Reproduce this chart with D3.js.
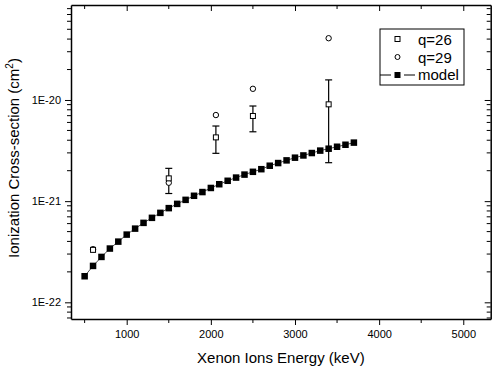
<!DOCTYPE html>
<html>
<head>
<meta charset="utf-8">
<script src="https://cdn.jsdelivr.net/npm/d3@7"></script>
<style>
  body { margin: 0; background: #fff; }
  text { font-family: Arial, "Liberation Sans", sans-serif; fill: #000; }
</style>
</head>
<body>
<script>
// chart size
var svgWidth = 501;
var svgHeight = 376;

// model curve, 500..3700 keV
var modelEnergy = [500, 600, 700, 800, 900, 1000, 1100, 1200, 1300, 1400, 1500, 1600, 1700,
  1800, 1900, 2000, 2100, 2200, 2300, 2400, 2500, 2600, 2700, 2800, 2900, 3000, 3100,
  3200, 3300, 3400, 3500, 3600, 3700];
var modelSigma = [1.81e-22, 2.29e-22, 2.81e-22, 3.40e-22, 3.98e-22, 4.67e-22, 5.35e-22, 6.10e-22,
  6.84e-22, 7.66e-22, 8.53e-22, 9.40e-22, 1.03e-21, 1.13e-21, 1.23e-21, 1.35e-21, 1.47e-21,
  1.59e-21, 1.71e-21, 1.83e-21, 1.95e-21, 2.07e-21, 2.24e-21, 2.38e-21, 2.53e-21, 2.69e-21,
  2.83e-21, 2.99e-21, 3.16e-21, 3.30e-21, 3.45e-21, 3.61e-21, 3.79e-21];

// q=26 measurements with error bars
var q26Energy = [600, 1500, 2060, 2500, 3400];
var q26Sigma = [3.30e-22, 1.68e-21, 4.27e-21, 6.95e-21, 9.06e-21];
var q26Low = [null, 1.19e-21, 2.97e-21, 4.85e-21, 2.40e-21];
var q26High = [null, 2.11e-21, 5.53e-21, 8.72e-21, 1.58e-20];

// q=29 measurements
var q29Energy = [600, 1500, 2060, 2500, 3400];
var q29Sigma = [3.35e-22, 1.52e-21, 7.1e-21, 1.29e-20, 4.08e-20];

var xTicks = [1000, 2000, 3000, 4000, 5000];
var yTicks = [1e-22, 1e-21, 1e-20];
var yTickLabels = ['1E-22', '1E-21', '1E-20'];
var legendLabels = ['q=26', 'q=29', 'model'];

// plot frame (note: "top" is a reserved window prop, so prefix everything)
var pLeft = 71, pRight = 490.7, pTop = 5, pBottom = 319;

var svg = d3.select('body').append('svg')
  .attr('width', svgWidth)
  .attr('height', svgHeight);

var x = d3.scaleLinear().domain([338, 5326]).range([pLeft, pRight]);
var y = d3.scaleLog().domain([6.84e-23, 8.69e-20]).range([pBottom, pTop]);

// minor ticks
var xMinor = [];
for (let v = 500; v <= 5000; v += 1000) xMinor.push(v);
var yMinor = [];
[1e-23, 1e-22, 1e-21, 1e-20].forEach(function(d) {
  for (let k = 2; k <= 9; k++) {
    let v = d * k;
    if (v > y.domain()[0] && v < y.domain()[1]) yMinor.push(v);
  }
});

// bottom axis
var xAxis = svg.append('g').attr('transform', 'translate(0,' + pBottom + ')')
  .call(d3.axisBottom(x).tickValues(xTicks).tickSize(6).tickSizeOuter(0).tickPadding(5)
    .tickFormat(d3.format('d')));
xAxis.append('g').selectAll('line').data(xMinor).enter().append('line')
  .attr('x1', x).attr('x2', x).attr('y1', 0).attr('y2', 4).attr('stroke', '#000');

// top axis (ticks inward)
var xTop = svg.append('g').attr('transform', 'translate(0,' + pTop + ')')
  .call(d3.axisBottom(x).tickValues(xTicks).tickSize(6).tickSizeOuter(0).tickFormat(''));
xTop.append('g').selectAll('line').data(xMinor).enter().append('line')
  .attr('x1', x).attr('x2', x).attr('y1', 0).attr('y2', 4).attr('stroke', '#000');

// left axis
var yAxis = svg.append('g').attr('transform', 'translate(' + pLeft + ',0)')
  .call(d3.axisLeft(y).tickValues(yTicks).tickSize(6).tickSizeOuter(0).tickPadding(4)
    .tickFormat(function(d, i) { return yTickLabels[i]; }));
yAxis.append('g').selectAll('line').data(yMinor).enter().append('line')
  .attr('y1', y).attr('y2', y).attr('x1', 0).attr('x2', -4).attr('stroke', '#000');

// right axis (ticks inward)
var yRight = svg.append('g').attr('transform', 'translate(' + pRight + ',0)')
  .call(d3.axisLeft(y).tickValues(yTicks).tickSize(6).tickSizeOuter(0).tickFormat(''));
yRight.append('g').selectAll('line').data(yMinor).enter().append('line')
  .attr('y1', y).attr('y2', y).attr('x1', 0).attr('x2', -4).attr('stroke', '#000');

svg.selectAll('.domain').attr('stroke-width', 1.5);
svg.selectAll('.tick text').style('font-size', '11px').style('font-family', 'Arial, "Liberation Sans", sans-serif');

// axis titles
svg.append('text')
  .attr('x', (pLeft + pRight) / 2).attr('y', 363)
  .attr('text-anchor', 'middle').style('font-size', '15px')
  .text('Xenon Ions Energy (keV)');

var yt = svg.append('text')
  .attr('transform', 'translate(19,158) rotate(-90)')
  .attr('text-anchor', 'middle').style('font-size', '15px');
yt.append('tspan').text('Ionization Cross-section (cm');
yt.append('tspan').attr('dy', -6).style('font-size', '10px').text('2');
yt.append('tspan').attr('dy', 6).text(')');

// model line + squares
var modelData = modelEnergy.map(function(e, i) { return {e: e, s: modelSigma[i]}; });
svg.append('path').datum(modelData)
  .attr('fill', 'none').attr('stroke', '#000').attr('stroke-width', 0.7)
  .attr('d', d3.line().x(function(d) { return x(d.e); }).y(function(d) { return y(d.s); }));
var ms = 6.5;
svg.selectAll('.model').data(modelData).enter().append('rect')
  .attr('class', 'model')
  .attr('x', function(d) { return x(d.e) - ms / 2; })
  .attr('y', function(d) { return y(d.s) - ms / 2; })
  .attr('width', ms).attr('height', ms).attr('fill', '#000');

// error bars q=26
var q26Data = q26Energy.map(function(e, i) {
  return {e: e, s: q26Sigma[i], lo: q26Low[i], hi: q26High[i]};
});
var errs = svg.selectAll('.err').data(q26Data.filter(function(d) { return d.lo !== null; }))
  .enter().append('g').attr('class', 'err').attr('stroke', '#000').attr('stroke-width', 1.2);
errs.append('line')
  .attr('x1', function(d) { return x(d.e); }).attr('x2', function(d) { return x(d.e); })
  .attr('y1', function(d) { return y(d.lo); }).attr('y2', function(d) { return y(d.hi); });
errs.append('line')
  .attr('x1', function(d) { return x(d.e) - 3.5; }).attr('x2', function(d) { return x(d.e) + 3.5; })
  .attr('y1', function(d) { return y(d.lo); }).attr('y2', function(d) { return y(d.lo); });
errs.append('line')
  .attr('x1', function(d) { return x(d.e) - 3.5; }).attr('x2', function(d) { return x(d.e) + 3.5; })
  .attr('y1', function(d) { return y(d.hi); }).attr('y2', function(d) { return y(d.hi); });

// q=29 circles
var q29Data = q29Energy.map(function(e, i) { return {e: e, s: q29Sigma[i]}; });
svg.selectAll('.q29').data(q29Data).enter().append('circle')
  .attr('class', 'q29')
  .attr('cx', function(d) { return x(d.e); })
  .attr('cy', function(d) { return y(d.s); })
  .attr('r', 2.7).attr('fill', '#fff').attr('stroke', '#000').attr('stroke-width', 1);

// q=26 squares
var qs = 5;
svg.selectAll('.q26').data(q26Data).enter().append('rect')
  .attr('class', 'q26')
  .attr('x', function(d) { return x(d.e) - qs / 2; })
  .attr('y', function(d) { return y(d.s) - qs / 2; })
  .attr('width', qs).attr('height', qs)
  .attr('fill', '#fff').attr('stroke', '#000').attr('stroke-width', 1);

// legend
var lg = svg.append('g').attr('transform', 'translate(380,29)');
lg.append('rect').attr('width', 84).attr('height', 56)
  .attr('fill', '#fff').attr('stroke', '#000').attr('stroke-width', 1);
lg.append('rect').attr('x', 15).attr('y', 7.5).attr('width', 5).attr('height', 5)
  .attr('fill', '#fff').attr('stroke', '#000');
lg.append('circle').attr('cx', 17.5).attr('cy', 28).attr('r', 2.5)
  .attr('fill', '#fff').attr('stroke', '#000');
lg.append('line').attr('x1', 0).attr('x2', 11).attr('y1', 46).attr('y2', 46)
  .attr('stroke', '#000').attr('stroke-width', 1);
lg.append('line').attr('x1', 24).attr('x2', 35).attr('y1', 46).attr('y2', 46)
  .attr('stroke', '#000').attr('stroke-width', 1);
lg.append('rect').attr('x', 14.5).attr('y', 43).attr('width', 6).attr('height', 6).attr('fill', '#000');
lg.selectAll('.lt').data(legendLabels).enter().append('text')
  .attr('x', 38).attr('y', function(d, i) { return 10.5 + i * 17.8; })
  .attr('dy', '0.35em').style('font-size', '15px')
  .text(function(d) { return d; });
</script>
</body>
</html>
